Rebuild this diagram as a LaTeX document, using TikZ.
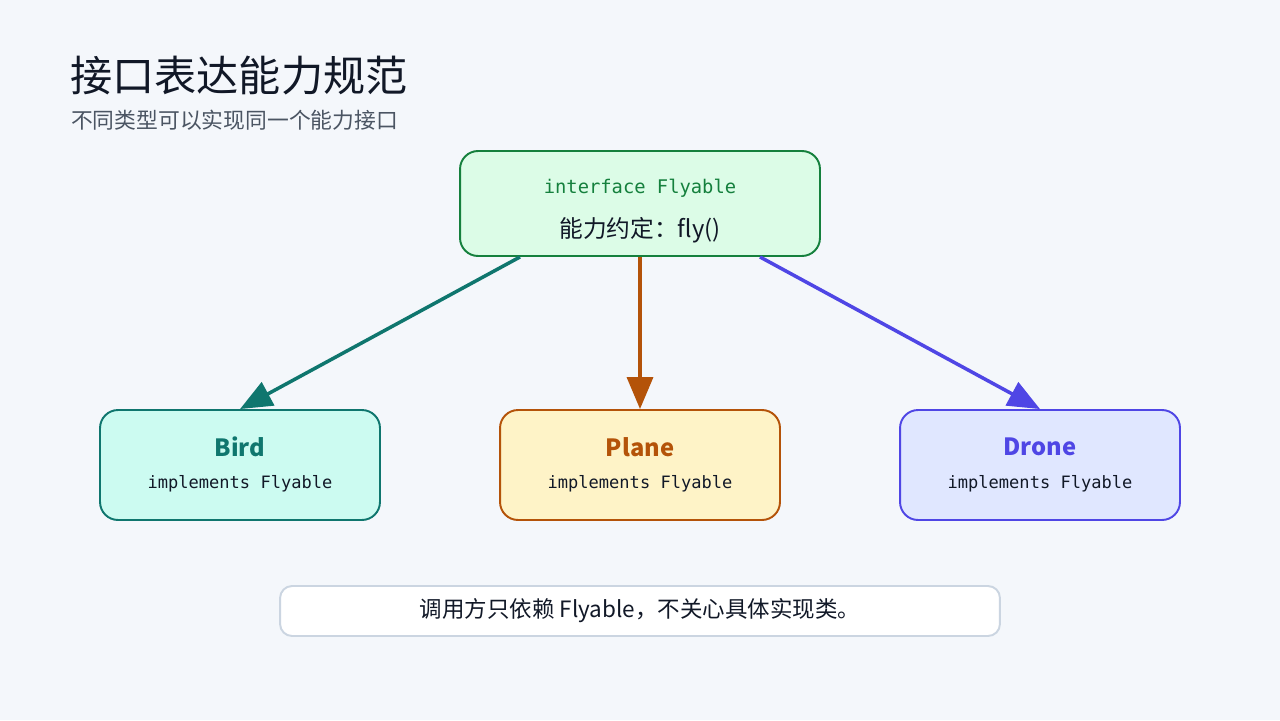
\documentclass[tikz,border=0pt]{standalone}
\usepackage{fontspec}
\setmainfont{Noto Sans CJK SC}
\setmonofont{DejaVu Sans Mono}
\usetikzlibrary{arrows.meta,positioning}
\definecolor{bgpage}{HTML}{F4F7FB}
\definecolor{ink}{HTML}{111827}
\definecolor{subink}{HTML}{4B5563}
\definecolor{ifacefill}{HTML}{DCFCE7}
\definecolor{ifaceline}{HTML}{15803D}
\definecolor{birdfill}{HTML}{CCFBF1}
\definecolor{birdline}{HTML}{0F766E}
\definecolor{planefill}{HTML}{FEF3C7}
\definecolor{planeline}{HTML}{B45309}
\definecolor{dronefill}{HTML}{E0E7FF}
\definecolor{droneline}{HTML}{4F46E5}
\definecolor{noteline}{HTML}{CBD5E1}
\tikzset{>={Triangle[length=.64cm,width=.52cm]},
  card/.style={draw,rounded corners=.36cm,line width=1.1pt,inner sep=0pt,
    minimum width=5.6cm,minimum height=2.2cm},
  ifacecard/.style={card,fill=ifacefill,draw=ifaceline,minimum width=7.2cm,minimum height=2.1cm},
  classname/.style={font=\fontsize{13.5}{16}\selectfont\bfseries},
  impltext/.style={font=\ttfamily\fontsize{9.7}{11}\selectfont,text=ink},
  link/.style={->,line width=2pt}}

\begin{document}
\begin{tikzpicture}[x=.02cm,y=-.02cm]
\fill[bgpage] (0,0) rectangle (1280,720);
\useasboundingbox (0,0) rectangle (1280,720);
% heading
\node[anchor=west,text=ink,font=\fontsize{24}{28}\selectfont] (title) at (64,76) {接口表达能力规范};
\node[anchor=west,text=subink,font=\fontsize{12.4}{15}\selectfont] (subtitle) at (65,120) {不同类型可以实现同一个能力接口};
% interface
\node[ifacecard] (iface) at (640,203.5) {};
\node[text=ifaceline,font=\ttfamily\fontsize{10.7}{12}\selectfont] (ifacename) at (640,188) {interface Flyable};
\node[text=ink,font=\fontsize{13.5}{15}\selectfont] (ifacefly) at (640,230) {能力约定：fly()};
% implementations
\node[card,fill=birdfill,draw=birdline] (bird) at (240,465) {};
\node[classname,text=birdline] (birdname) at (240,447) {Bird};
\node[impltext] (birdimpl) at (240,484) {implements Flyable};
\node[card,fill=planefill,draw=planeline] (plane) at (640,465) {};
\node[classname,text=planeline] (planename) at (640,447) {Plane};
\node[impltext] (planeimpl) at (640,484) {implements Flyable};
\node[card,fill=dronefill,draw=droneline] (drone) at (1040,465) {};
\node[classname,text=droneline] (dronename) at (1040,447) {Drone};
\node[impltext] (droneimpl) at (1040,484) {implements Flyable};
% connectors
\draw[link,draw=birdline,fill=birdline] ([xshift=-120*.02cm]iface.south) -- (bird.north);
\draw[link,draw=planeline,fill=planeline] (iface.south) -- (plane.north);
\draw[link,draw=droneline,fill=droneline] ([xshift=120*.02cm]iface.south) -- (drone.north);
% note
\node[draw=noteline,fill=white,rounded corners=.24cm,line width=1.1pt,minimum width=14.4cm,minimum height=1cm,
  text=ink,font=\fontsize{12.8}{14}\selectfont] (note) at (640,611) {调用方只依赖 Flyable，不关心具体实现类。};
\end{tikzpicture}
\end{document}
